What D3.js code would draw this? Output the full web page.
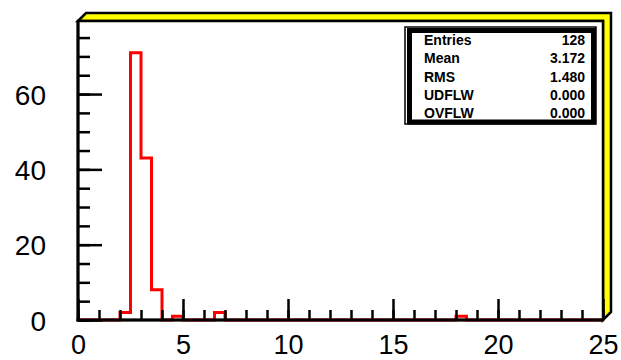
<!DOCTYPE html>
<html>
<head>
<meta charset="utf-8">
<script src="https://cdn.jsdelivr.net/npm/d3@7"></script>
<style>
  html, body { margin: 0; padding: 0; background: #fff; }
  svg { display: block; }
</style>
</head>
<body>
<div id="chart"></div>
<script>
// histogram: bin lower edges (width 0.5) and their counts, all other bins are empty
const binWidth = 0.5;
const binStarts = [2.0, 2.5, 3.0, 3.5, 4.5, 6.5, 18.0];
const binCounts = [2, 71, 43, 8, 1, 2, 1];

const xTicks = [0, 5, 10, 15, 20, 25];
const yTicks = [0, 20, 40, 60];

const statLabels = ['Entries', 'Mean', 'RMS', 'UDFLW', 'OVFLW'];
const statValues = ['128', '3.172', '1.480', '0.000', '0.000'];

const width = 621, height = 360;
const x0 = 78, x1 = 603, y0 = 21, y1 = 320;

const svg = d3.select('#chart').append('svg')
  .attr('width', width)
  .attr('height', height);

const x = d3.scaleLinear().domain([0, 25]).range([x0, x1]);
const y = d3.scaleLinear().domain([0, 79.4]).range([y1, y0]);

// 黄色阴影
const d = 8;
svg.append('polygon')
  .attr('points', [[x0, y0], [x0 + d, y0 - d], [x1 + d, y0 - d], [x1 + d, y1 - d], [x1, y1], [x1, y0]].map(p => p.join(',')).join(' '))
  .attr('fill', '#ffff00')
  .attr('stroke', '#000')
  .attr('stroke-width', 2.5);

// frame
svg.append('rect')
  .attr('x', x0).attr('y', y0)
  .attr('width', x1 - x0).attr('height', y1 - y0)
  .attr('fill', '#fff')
  .attr('stroke', '#000')
  .attr('stroke-width', 2.5);

// full set of bins
const nBins = Math.round(25 / binWidth);
const counts = new Array(nBins).fill(0);
binStarts.forEach((s, i) => { counts[Math.round(s / binWidth)] = binCounts[i]; });

const pts = [];
counts.forEach((c, i) => {
  pts.push([x(i * binWidth), y(c)]);
  pts.push([x((i + 1) * binWidth), y(c)]);
});

svg.append('path')
  .attr('d', d3.line()(pts))
  .attr('fill', 'none')
  .attr('stroke', '#ff0000')
  .attr('stroke-width', 3);

const font = '"Liberation Sans", Arial, sans-serif';

// y axis
svg.append('g')
  .attr('transform', `translate(${x0},0)`)
  .call(d3.axisLeft(y).tickValues(d3.range(0, 80, 5)).tickSizeInner(-12).tickSizeOuter(0).tickFormat(''))
  .call(g => g.select('.domain').remove())
  .call(g => g.selectAll('line').attr('stroke', '#000').attr('stroke-width', 2.5));

svg.append('g')
  .attr('transform', `translate(${x0},0)`)
  .call(d3.axisLeft(y).tickValues(yTicks).tickSizeInner(-24).tickSizeOuter(0).tickPadding(32))
  .call(g => g.select('.domain').remove())
  .call(g => g.selectAll('line').attr('stroke', '#000').attr('stroke-width', 2.5))
  .call(g => g.selectAll('text')
    .attr('font-family', font)
    .attr('font-size', 28)
    .attr('fill', '#000')
    .attr('dy', '0.36em'));

// x axis
svg.append('g')
  .attr('transform', `translate(0,${y1})`)
  .call(d3.axisBottom(x).tickValues(d3.range(0, 26, 1)).tickSizeInner(-10).tickSizeOuter(0).tickFormat(''))
  .call(g => g.select('.domain').remove())
  .call(g => g.selectAll('line').attr('stroke', '#000').attr('stroke-width', 2.5));

svg.append('g')
  .attr('transform', `translate(0,${y1})`)
  .call(d3.axisBottom(x).tickValues(xTicks).tickSizeInner(-21).tickSizeOuter(0).tickPadding(34))
  .call(g => g.select('.domain').remove())
  .call(g => g.selectAll('line').attr('stroke', '#000').attr('stroke-width', 2.5))
  .call(g => g.selectAll('text')
    .attr('font-family', font)
    .attr('font-size', 27)
    .attr('fill', '#000')
    .attr('dy', '0'));

// axis lines on top
svg.append('line').attr('x1', x0).attr('x2', x0).attr('y1', y0).attr('y2', y1 + 1.5)
  .attr('stroke', '#000').attr('stroke-width', 3);
svg.append('line').attr('x1', x0 - 1.5).attr('x2', x1).attr('y1', y1).attr('y2', y1)
  .attr('stroke', '#000').attr('stroke-width', 3);

// stats box
const bx = 405, by = 27, bw = 191, bh = 97;
svg.append('rect')
  .attr('x', bx).attr('y', by).attr('width', bw).attr('height', bh)
  .attr('fill', 'none').attr('stroke', '#000').attr('stroke-width', 1.5);
svg.append('rect')
  .attr('x', bx + 4.5).attr('y', by + 3.5).attr('width', bw - 7).attr('height', bh - 5.5)
  .attr('fill', '#fff').attr('stroke', '#000').attr('stroke-width', 5);

const rowY = d3.scalePoint().domain(statLabels).range([40, 113]);
statLabels.forEach((lab, i) => {
  svg.append('text')
    .attr('x', 424).attr('y', rowY(lab))
    .attr('dy', '0.36em')
    .attr('font-family', '"Liberation Sans Narrow", "Liberation Sans", Arial, sans-serif')
    .attr('font-weight', 'bold')
    .attr('font-size', 14)
    .text(lab);
  svg.append('text')
    .attr('x', 585).attr('y', rowY(lab))
    .attr('dy', '0.36em')
    .attr('text-anchor', 'end')
    .attr('font-family', '"Liberation Sans Narrow", "Liberation Sans", Arial, sans-serif')
    .attr('font-weight', 'bold')
    .attr('font-size', 14)
    .text(statValues[i]);
});
</script>
</body>
</html>
